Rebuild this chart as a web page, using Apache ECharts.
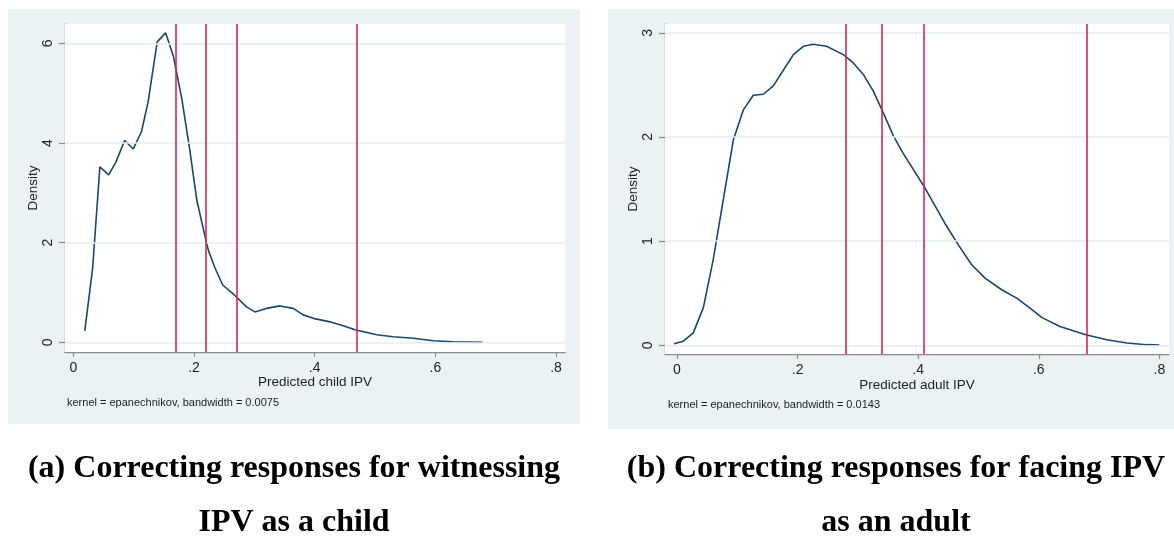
<!DOCTYPE html>
<html>
<head>
<meta charset="utf-8">
<script src="https://cdn.jsdelivr.net/npm/echarts@6/dist/echarts.min.js"></script>
<style>
  html, body { margin: 0; padding: 0; background: #ffffff; }
  #chart { width: 1174px; height: 538px; }
</style>
</head>
<body>
<div id="chart"></div>
<script>
// Kernel density estimates of predicted IPV, [x, density]
const childCurve = [
  [0.019, 0.23], [0.032, 1.49], [0.044, 3.52], [0.0586, 3.36], [0.0707, 3.62],
  [0.085, 4.05], [0.0994, 3.88], [0.113, 4.23], [0.124, 4.83], [0.139, 6.03],
  [0.153, 6.21], [0.166, 5.73], [0.1796, 4.90], [0.193, 3.86], [0.2045, 2.86],
  [0.217, 2.19], [0.2237, 1.85], [0.2348, 1.49], [0.2475, 1.15], [0.2668, 0.95],
  [0.287, 0.71], [0.301, 0.61], [0.32, 0.68], [0.3425, 0.73], [0.3645, 0.68],
  [0.381, 0.55], [0.3977, 0.48], [0.4253, 0.41], [0.447, 0.33], [0.467, 0.25],
  [0.5027, 0.15], [0.53, 0.11], [0.5634, 0.08], [0.5965, 0.03], [0.63, 0.01],
  [0.678, 0.0]
];
const adultCurve = [
  [-0.005, 0.016], [0.0105, 0.04], [0.027, 0.12], [0.0436, 0.36], [0.06, 0.82],
  [0.0768, 1.40], [0.0934, 1.97], [0.11, 2.26], [0.1265, 2.40], [0.1431, 2.41],
  [0.1597, 2.49], [0.1763, 2.64], [0.193, 2.79], [0.2095, 2.87], [0.226, 2.89],
  [0.248, 2.87], [0.2758, 2.79], [0.2924, 2.71], [0.309, 2.60], [0.3256, 2.44],
  [0.3438, 2.21], [0.3588, 2.01], [0.3753, 1.84], [0.4113, 1.51], [0.4444, 1.17],
  [0.4665, 0.965], [0.4887, 0.774], [0.5108, 0.646], [0.5385, 0.534], [0.5634, 0.454],
  [0.5854, 0.358], [0.6048, 0.269], [0.635, 0.182], [0.678, 0.103], [0.7126, 0.055],
  [0.746, 0.023], [0.779, 0.007], [0.80, 0.004]
];

// Vertical reference lines (cutoffs)
const childCutoffs = [0.1665, 0.2165, 0.2665, 0.4665];
const adultCutoffs = [0.2775, 0.3435, 0.4105, 0.678];

// Axis ticks
const xTicks = [0, 0.2, 0.4, 0.6, 0.8];
const childYTicks = [0, 2, 4, 6];
const adultYTicks = [0, 1, 2, 3];

// Texts
const childXTitle = 'Predicted child IPV';
const adultXTitle = 'Predicted adult IPV';
const yTitle = 'Density';
const childNote = 'kernel = epanechnikov, bandwidth = 0.0075';
const adultNote = 'kernel = epanechnikov, bandwidth = 0.0143';
const childCaption = ['(a) Correcting responses for witnessing', 'IPV as a child'];
const adultCaption = ['(b) Correcting responses for facing IPV', 'as an adult'];

const SANS = 'Liberation Sans, Arial, sans-serif';
const SERIF = 'Liberation Serif, Times New Roman, serif';
const PANEL_BG = '#eaf2f3';
const GRID_LINE = '#e6eeef';
const CURVE = '#1a476f';
const CUT = '#d7264e';
const AXIS = '#8a8a8a';

const fmtX = v => (v === 0 ? '0' : String(v).replace(/^0/, ''));

function xAxis(gridIndex, min, max) {
  return {
    type: 'value', gridIndex, min, max,
    axisLine: { show: true, onZero: false, lineStyle: { color: AXIS, width: 1.3 } },
    axisTick: { show: true, length: 5, customValues: xTicks, lineStyle: { color: AXIS, width: 1.2 } },
    axisLabel: { customValues: xTicks, formatter: fmtX, margin: 9, color: '#1e1e1e', fontSize: 14, fontFamily: SANS },
    splitLine: { show: false }
  };
}
function yAxis(gridIndex, min, max, ticks) {
  return {
    type: 'value', gridIndex, min, max,
    axisLine: { show: true, onZero: false, lineStyle: { color: AXIS, width: 1.3 } },
    axisTick: { show: true, length: 6, customValues: ticks, lineStyle: { color: AXIS, width: 1.2 } },
    axisLabel: { customValues: ticks, rotate: 90, margin: 10, color: '#1e1e1e', fontSize: 14, fontFamily: SANS },
    splitLine: { show: false }
  };
}
function gridLines(i, ticks) {
  return {
    type: 'line', xAxisIndex: i, yAxisIndex: i, data: [], silent: true, z: 1,
    markLine: {
      silent: true, symbol: ['none', 'none'], label: { show: false },
      lineStyle: { color: GRID_LINE, width: 1.5, type: 'solid' },
      data: ticks.map(t => ({ yAxis: t }))
    }
  };
}
function curve(i, data) {
  return {
    type: 'line', xAxisIndex: i, yAxisIndex: i, data, showSymbol: false, smooth: false,
    lineStyle: { color: CURVE, width: 1.6 }, z: 3, silent: true
  };
}
function cutoffs(i, vals) {
  return {
    type: 'line', xAxisIndex: i, yAxisIndex: i, data: [], silent: true, z: 4,
    markLine: {
      silent: true, symbol: ['none', 'none'], label: { show: false },
      lineStyle: { color: CUT, width: 1.6, type: 'solid' },
      data: vals.map(v => ({ xAxis: v }))
    }
  };
}
function txt(x, y, text, size, opts) {
  return Object.assign({
    type: 'text', x, y, z: 10,
    style: Object.assign({ text, fontSize: size, fontFamily: SANS, fill: '#1e1e1e', align: 'center', verticalAlign: 'middle' }, opts || {})
  });
}

const chart = echarts.init(document.getElementById('chart'), null, { renderer: 'canvas' });
chart.setOption({
  animation: false,
  backgroundColor: '#ffffff',
  grid: [
    { left: 65, top: 24, width: 500, height: 328, show: true, backgroundColor: '#ffffff', borderWidth: 0, z: 1 },
    { left: 665, top: 24, width: 504, height: 330, show: true, backgroundColor: '#ffffff', borderWidth: 0, z: 1 }
  ],
  xAxis: [xAxis(0, -0.0138, 0.8148), xAxis(1, -0.0199, 0.8159)],
  yAxis: [yAxis(0, -0.195, 6.388, childYTicks), yAxis(1, -0.0825, 3.084, adultYTicks)],
  series: [
    gridLines(0, childYTicks), curve(0, childCurve), cutoffs(0, childCutoffs),
    gridLines(1, adultYTicks), curve(1, adultCurve), cutoffs(1, adultCutoffs)
  ],
  graphic: [
    { type: 'rect', shape: { x: 8, y: 9, width: 572, height: 415 }, style: { fill: PANEL_BG }, z: -10, silent: true },
    { type: 'rect', shape: { x: 608, y: 9, width: 566, height: 420 }, style: { fill: PANEL_BG }, z: -10, silent: true },
    txt(315, 382, childXTitle, 13.5),
    txt(917, 385, adultXTitle, 13.5),
    Object.assign(txt(33, 188, yTitle, 13.5), { rotation: Math.PI / 2 }),
    Object.assign(txt(633, 189, yTitle, 13.5), { rotation: Math.PI / 2 }),
    txt(67, 403, childNote, 11, { align: 'left' }),
    txt(668, 405, adultNote, 11, { align: 'left' }),
    txt(294, 469, childCaption[0], 32, { fontFamily: SERIF, fontWeight: 'bold', fill: '#000' }),
    txt(294, 523, childCaption[1], 32, { fontFamily: SERIF, fontWeight: 'bold', fill: '#000' }),
    txt(896, 469, adultCaption[0], 32, { fontFamily: SERIF, fontWeight: 'bold', fill: '#000' }),
    txt(896, 523, adultCaption[1], 32, { fontFamily: SERIF, fontWeight: 'bold', fill: '#000' })
  ]
});
</script>
</body>
</html>
